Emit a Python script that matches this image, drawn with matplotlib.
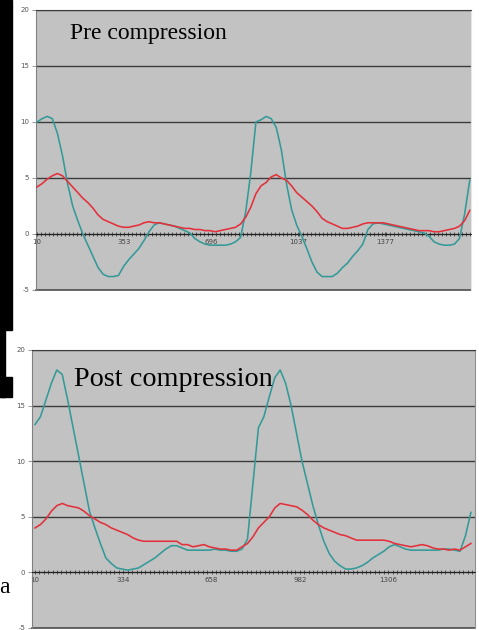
import numpy as np
import matplotlib.pyplot as plt
from matplotlib.patches import Rectangle
from matplotlib.ticker import FixedLocator

plt.rcParams['axes.unicode_minus'] = False

# ---- data ----
# pre compression, one sample every 20 time units from 10
pre_time = np.arange(10, 1711, 20)
pre_teal = [10.0, 10.3, 10.5, 10.3, 9.0, 7.0, 4.5, 2.5, 1.2, 0.0,
            -1.0, -2.0, -3.0, -3.6, -3.8, -3.8, -3.7, -2.9, -2.3, -1.8,
            -1.3, -0.6, 0.2, 0.8, 1.0, 0.9, 0.8, 0.7, 0.5, 0.3,
            0.1, -0.4, -0.7, -0.9, -1.0, -1.0, -1.0, -1.0, -0.9, -0.7,
            -0.3, 2.0, 5.5, 10.0, 10.2, 10.5, 10.3, 9.5, 7.5, 4.5,
            2.2, 0.8, -0.2, -1.3, -2.5, -3.4, -3.8, -3.8, -3.8, -3.5,
            -3.0, -2.6, -2.0, -1.5, -0.9, 0.4, 0.9, 1.0, 0.9, 0.8,
            0.7, 0.6, 0.5, 0.4, 0.3, 0.2, 0.1, -0.2, -0.7, -0.9,
            -1.0, -1.0, -0.9, -0.4, 1.8, 4.8]
pre_red = [4.2, 4.5, 4.9, 5.2, 5.4, 5.2, 4.7, 4.2, 3.7, 3.2,
           2.8, 2.3, 1.7, 1.3, 1.1, 0.9, 0.7, 0.6, 0.6, 0.7,
           0.8, 1.0, 1.1, 1.0, 1.0, 0.9, 0.8, 0.7, 0.6, 0.5,
           0.5, 0.4, 0.4, 0.3, 0.3, 0.2, 0.3, 0.4, 0.5, 0.6,
           0.9, 1.5, 2.4, 3.6, 4.3, 4.6, 5.1, 5.3, 5.0, 4.8,
           4.3, 3.7, 3.3, 2.9, 2.5, 2.0, 1.4, 1.1, 0.9, 0.7,
           0.5, 0.5, 0.6, 0.7, 0.9, 1.0, 1.0, 1.0, 1.0, 0.9,
           0.8, 0.7, 0.6, 0.5, 0.4, 0.3, 0.3, 0.3, 0.2, 0.2,
           0.3, 0.4, 0.5, 0.7, 1.2, 2.1]
pre_ticks = [10, 353, 696, 1037, 1377]

# post compression
post_time = np.arange(10, 1611, 20)
post_teal = [13.3, 14.0, 15.5, 17.0, 18.2, 17.8, 15.5, 13.0, 10.5, 8.0,
             5.5, 4.0, 2.6, 1.3, 0.8, 0.4, 0.3, 0.2, 0.3, 0.4,
             0.7, 1.0, 1.3, 1.7, 2.1, 2.4, 2.4, 2.2, 2.0, 2.0,
             2.0, 2.0, 2.0, 2.1, 2.0, 2.0, 1.9, 1.9, 2.1, 3.0,
             8.0, 13.0, 14.0, 15.8, 17.5, 18.2, 17.0, 15.0, 12.5, 10.0,
             8.0, 6.0, 4.3, 2.8, 1.7, 1.0, 0.6, 0.3, 0.3, 0.4,
             0.6, 0.9, 1.3, 1.6, 1.9, 2.3, 2.5, 2.3, 2.1, 2.0,
             2.0, 2.0, 2.0, 2.0, 2.0, 2.1, 2.1, 2.0, 1.9, 3.3,
             5.4]
post_red = [4.0, 4.3, 4.8, 5.5, 6.0, 6.2, 6.0, 5.9, 5.8, 5.5,
            5.1, 4.8, 4.5, 4.3, 4.0, 3.8, 3.6, 3.4, 3.1, 2.9,
            2.8, 2.8, 2.8, 2.8, 2.8, 2.8, 2.8, 2.5, 2.5, 2.3,
            2.4, 2.5, 2.3, 2.2, 2.1, 2.1, 2.0, 2.0, 2.3, 2.6,
            3.2, 4.0, 4.5, 5.0, 5.8, 6.2, 6.1, 6.0, 5.9, 5.6,
            5.2, 4.7, 4.3, 4.0, 3.8, 3.6, 3.4, 3.3, 3.1, 2.9,
            2.9, 2.9, 2.9, 2.9, 2.9, 2.8, 2.6, 2.5, 2.4, 2.3,
            2.4, 2.5, 2.4, 2.2, 2.1, 2.1, 2.0, 2.1, 2.0, 2.3,
            2.6]
post_ticks = [10, 334, 658, 982, 1306]

y_ticks = [-5, 0, 5, 10, 15, 20]

W, H = 479, 630
fig = plt.figure(figsize=(W / 100, H / 100), dpi=100)


def px_rect(x0, y0, x1, y1):
    # pixel box (top-left origin) -> figure fraction rect
    return [x0 / W, 1 - y1 / H, (x1 - x0) / W, (y1 - y0) / H]


def panel(rect, t, teal, red, xlim, ticks, minor_step, right_col):
    ax = fig.add_axes(rect)
    ax.set_facecolor('#c2c2c2')
    ax.plot(t, teal, color='#339a98', lw=1.15, zorder=3)
    ax.plot(t, red, color='#e3303a', lw=1.15, zorder=3)
    ax.set_xlim(*xlim)
    ax.set_ylim(-5, 20)

    ax.set_yticks(y_ticks)
    ax.yaxis.grid(True, color='#3c3c3c', lw=1.0)
    ax.set_axisbelow(True)
    ax.tick_params(axis='y', direction='out', length=3, width=0.6,
                   color='#888888', labelsize=5, labelcolor='#555555', pad=2)

    # category axis sits on the zero line, excel style
    ax.spines['bottom'].set_position(('data', 0))
    ax.spines['bottom'].set_color('#222222')
    ax.spines['bottom'].set_linewidth(0.7)
    ax.set_xticks(ticks)
    ax.set_xticklabels([str(v) for v in ticks])
    minors = np.arange(ticks[0] - 2 * minor_step, xlim[1], minor_step)
    ax.xaxis.set_minor_locator(FixedLocator(minors))
    ax.tick_params(axis='x', which='both', direction='inout', length=3.5,
                   width=0.5, color='#222222', labelsize=5,
                   labelcolor='#444444', pad=1.5)

    ax.spines['top'].set_color('#3c3c3c')
    ax.spines['left'].set_color('#808080')
    ax.spines['right'].set_color(right_col)
    ax.axhline(-5, color='#505050', lw=1.2, clip_on=False)
    return ax


ax1 = panel(px_rect(36, 10, 471, 290), pre_time, pre_teal, pre_red,
            (6, 1715), pre_ticks, 343 / 22, '#e6e6e6')
ax1.text(70 / 100, (H - 33) / 100, 'Pre compression',
         transform=fig.dpi_scale_trans, fontsize=17,
         family='Liberation Serif', va='center', ha='left')

ax2 = panel(px_rect(32, 350, 475, 628), post_time, post_teal, post_red,
            (-1, 1625), post_ticks, 324 / 20, '#909090')
ax2.text(74 / 100, (H - 379) / 100, 'Post compression',
         transform=fig.dpi_scale_trans, fontsize=20.3,
         family='Liberation Serif', va='center', ha='left')

# stray bits around the figure
fig.add_artist(Rectangle((0, 1 - 330 / H), 12 / W, 330 / H,
                         transform=fig.transFigure, color='black'))
fig.add_artist(Rectangle((0, 1 - 397 / H), 5 / W, 67 / H,
                         transform=fig.transFigure, color='black'))
fig.add_artist(Rectangle((0, 1 - 397 / H), 12 / W, 20 / H,
                         transform=fig.transFigure, color='black'))
fig.text(-1 / W, 1 - 593 / H, 'a', fontsize=17, family='Liberation Serif',
         va='baseline', ha='left')

fig.savefig('out.png', dpi=100)
